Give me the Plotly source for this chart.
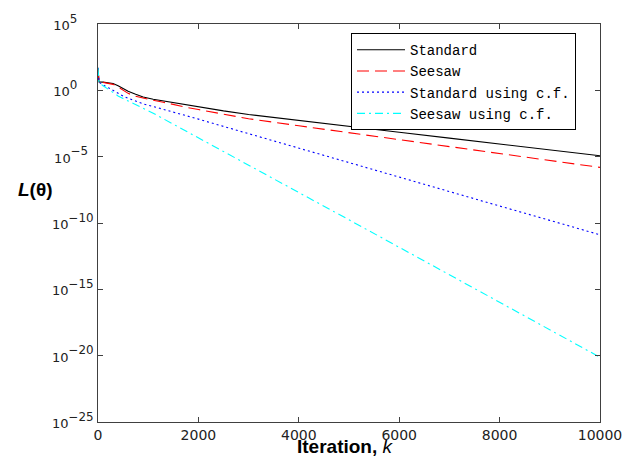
import numpy as np
import plotly.graph_objects as go

# Iteration index
k = [0, 20, 100, 200, 300, 400, 500, 600, 750, 900, 1100, 1300, 1500, 1750,
     2000, 2500, 3000, 4000, 5000, 6000, 7000, 8000, 9000, 10000]

# log10 of L(theta)
standard_exp = [1.69, 0.63, 0.62, 0.59, 0.52, 0.35, 0.15, -0.07, -0.30, -0.50, -0.67, -0.80,
                -0.93, -1.10, -1.25, -1.55, -1.82, -2.28, -2.72, -3.16, -3.60, -4.04, -4.48, -4.93]
seesaw_exp = [1.69, 0.63, 0.60, 0.55, 0.45, 0.25, 0.02, -0.23, -0.45, -0.60, -0.75, -0.90,
              -1.08, -1.27, -1.45, -1.80, -2.14, -2.67, -3.19, -3.71, -4.23, -4.76, -5.29, -5.81]
standard_cf_exp = [1.69, 0.60, 0.42, 0.20, -0.02, -0.22, -0.43, -0.60, -0.84, -1.02, -1.22, -1.42,
                   -1.63, -1.90, -2.17, -2.72, -3.27, -4.36, -5.45, -6.54, -7.63, -8.72, -9.80, -10.89]
seesaw_cf_exp = [1.69, 0.58, 0.35, 0.08, -0.18, -0.42, -0.62, -0.80, -1.13, -1.35, -1.72, -2.14,
                 -2.55, -3.05, -3.57, -4.60, -5.63, -7.70, -9.76, -11.83, -13.90, -15.97, -18.04, -20.12]

names = ["Standard", "Seesaw", "Standard using c.f.", "Seesaw using c.f."]
series = [standard_exp, seesaw_exp, standard_cf_exp, seesaw_cf_exp]

y_exps = [5, 0, -5, -10, -15, -20, -25]
x_ticks = [0, 2000, 4000, 6000, 8000, 10000]

styles = [
    dict(color="#000000", dash="solid"),
    dict(color="#ff0000", dash="12px,6px"),
    dict(color="#0000ff", dash="2px,3px"),
    dict(color="#00ffff", dash="8px,4px,2px,4px"),
]

fig = go.Figure()
for name, ex, st in zip(names, series, styles):
    fig.add_trace(go.Scatter(
        x=k, y=np.power(10.0, np.array(ex)), mode="lines", name=name,
        line=dict(color=st["color"], dash=st["dash"], width=1.1),
    ))

def pad(e):
    s = str(e).replace("-", "\u2212")
    n = {1: 3, 2: 1, 3: 0}[len(s)]
    return ("<span style='font-size:13px'>10</span><sup>" + s + "</sup>" + "\u00a0" * n)

axis_common = dict(
    showline=True, linecolor="#404040", linewidth=1, mirror="ticks",
    ticks="inside", ticklen=5, tickcolor="#404040", showgrid=False, zeroline=False,
    automargin=False,
)

# the page body adds an 8px offset, so the figure is sized to compensate
fig.update_layout(
    width=631, height=460,
    margin=dict(l=90, r=39, t=16, b=46),
    paper_bgcolor="white", plot_bgcolor="white",
    showlegend=True,
    legend=dict(
        x=0.504, y=0.977, xanchor="left", yanchor="top",
        bgcolor="white", bordercolor="#000000", borderwidth=1,
        font=dict(family="Liberation Mono", size=14, color="#000000"),
        itemwidth=48,
        tracegroupgap=0,
    ),
    xaxis=dict(range=[0, 10000], tickvals=x_ticks, ticktext=[str(v) for v in x_ticks],
               tickfont=dict(family="DejaVu Sans", size=14, color="#222222"), **axis_common),
    yaxis=dict(type="log", range=[-25, 5], tickvals=[10.0 ** e for e in y_exps],
               ticktext=[pad(e) for e in y_exps],
               tickfont=dict(family="DejaVu Sans", size=17, color="#222222"), **axis_common),
)

fig.add_annotation(
    text="<b><i>L</i>(θ)</b>", xref="paper", yref="paper",
    x=-0.125, y=0.583, xanchor="center", yanchor="middle", showarrow=False,
    font=dict(family="Liberation Sans", size=19, color="#000000"),
)
fig.add_annotation(
    text="<b>Iteration, </b><i>k</i>", xref="paper", yref="paper",
    x=0.494, y=-0.062, xanchor="center", yanchor="middle", showarrow=False,
    font=dict(family="Liberation Sans", size=19, color="#000000"),
)

fig.write_html("out.html")
